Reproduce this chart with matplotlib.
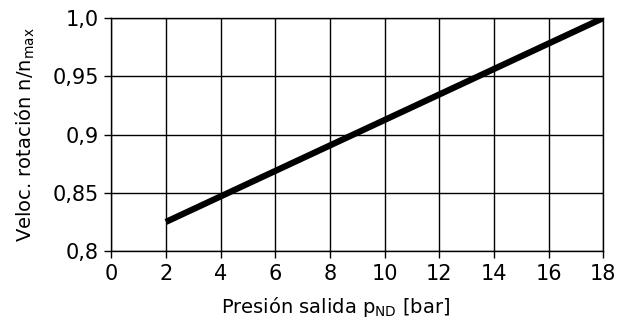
import numpy as np
import matplotlib.pyplot as plt

plt.rcParams['font.family'] = ['DejaVu Sans']
plt.rcParams['mathtext.fontset'] = 'dejavusans'

# data
pressure = [2, 18]
speed_ratio = [0.825, 1.0]
x_ticks = [0, 2, 4, 6, 8, 10, 12, 14, 16, 18]
y_ticks = [0.8, 0.85, 0.9, 0.95, 1.0]
y_tick_labels = ['0,8', '0,85', '0,9', '0,95', '1,0']

fig = plt.figure(figsize=(6.18, 3.29), dpi=100)
ax = fig.add_axes([0.180, 0.237, 0.796, 0.708])

ax.plot(pressure, speed_ratio, color='black', linewidth=4.5, solid_capstyle='butt')

ax.set_xlim(0, 18)
ax.set_ylim(0.8, 1.0)
ax.set_xticks(x_ticks)
ax.set_xticklabels([str(t) for t in x_ticks])
ax.set_yticks(y_ticks)
ax.set_yticklabels(y_tick_labels)
ax.grid(True, color='black', linewidth=1.0)
ax.set_axisbelow(True)

for s in ax.spines.values():
    s.set_linewidth(1.0)
ax.tick_params(direction='out', length=5, width=1.0, labelsize=15, pad=4)

ax.set_xlabel(r'Presión salida p$_{\mathrm{ND}}$ [bar]', fontsize=14)
ax.set_ylabel(r'Veloc. rotación n/n$_{\mathrm{max}}$', fontsize=14, labelpad=11)
# x label sits a bit left of the axes centre in the original
ax.xaxis.set_label_coords(0.455, -0.19)

fig.savefig('out.png', dpi=100)
